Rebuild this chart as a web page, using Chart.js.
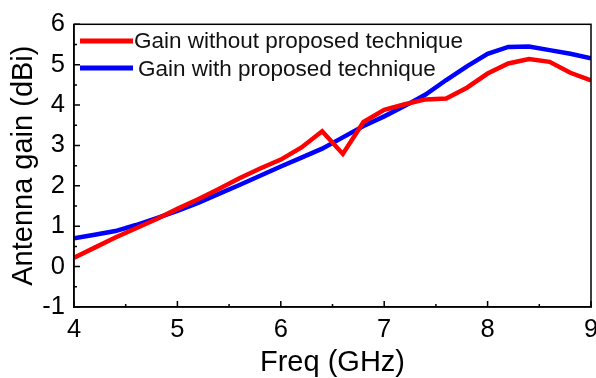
<!DOCTYPE html>
<html>
<head>
<meta charset="utf-8">
<script src="https://cdn.jsdelivr.net/npm/chart.js@4"></script>
<style>
    html, body { margin: 0; padding: 0; background: #ffffff; }
    #wrap { width: 596px; height: 378px; }
</style>
</head>
<body>
<div id="wrap"><canvas id="gainChart" width="596" height="378"></canvas></div>
<script>
// Frequency sweep (GHz) and measured gain (dBi)
const freqs = [4.0, 4.2, 4.4, 4.6, 4.8, 5.0, 5.2, 5.4, 5.6, 5.8, 6.0, 6.2, 6.4,
               6.6, 6.8, 7.0, 7.2, 7.4, 7.6, 7.8, 8.0, 8.2, 8.4, 8.6, 8.8, 9.0];
const gainWithout = [0.22, 0.47, 0.72, 0.95, 1.18, 1.43, 1.67, 1.92, 2.19, 2.43, 2.65, 2.95, 3.35,
                     2.79, 3.58, 3.88, 4.02, 4.14, 4.16, 4.43, 4.78, 5.03, 5.14, 5.07, 4.80, 4.61];
const gainWith = [0.70, 0.79, 0.88, 1.03, 1.20, 1.38, 1.58, 1.80, 2.02, 2.25, 2.48, 2.70, 2.92,
                  3.20, 3.48, 3.72, 3.98, 4.26, 4.62, 4.96, 5.27, 5.44, 5.45, 5.36, 5.27, 5.16];
const xTicks = [4, 5, 6, 7, 8, 9];
const yTicks = [-1, 0, 1, 2, 3, 4, 5, 6];
const seriesLabels = ['Gain without proposed technique', 'Gain with proposed technique'];

const FONT = '"Liberation Sans", Arial, Helvetica, sans-serif';

function toPoints(ys) {
    return freqs.map((f, i) => ({ x: f, y: ys[i] }));
}

// Frame on all four sides plus inward major/minor ticks on the left and bottom axes
const framePlugin = {
    id: 'frameTicks',
    afterDatasetsDraw(chart) {
        const { ctx, chartArea: a, scales } = chart;
        const xs = scales.x, ys = scales.y;
        ctx.save();
        ctx.strokeStyle = '#000';
        ctx.lineWidth = 1.5;
        ctx.strokeRect(a.left, a.top, a.right - a.left, a.bottom - a.top);
        ctx.beginPath();
        for (let v = xTicks[0]; v <= xTicks[xTicks.length - 1] + 1e-9; v += 0.5) {
            const px = xs.getPixelForValue(v);
            const len = Number.isInteger(v) ? 6 : 3;
            ctx.moveTo(px, a.bottom);
            ctx.lineTo(px, a.bottom - len);
        }
        for (let v = yTicks[0]; v <= yTicks[yTicks.length - 1] + 1e-9; v += 0.5) {
            const py = ys.getPixelForValue(v);
            const len = Number.isInteger(v) ? 6 : 3;
            ctx.moveTo(a.left, py);
            ctx.lineTo(a.left + len, py);
        }
        ctx.stroke();
        ctx.restore();
    }
};

// Legend drawn inside the plot, top-left
const insideLegend = {
    id: 'insideLegend',
    afterDraw(chart) {
        const { ctx } = chart;
        const rows = [
            { lineY: 41, textX: 134, baseY: 48 },
            { lineY: 68, textX: 138, baseY: 76 }
        ];
        ctx.save();
        ctx.font = '22.5px ' + FONT;
        ctx.textBaseline = 'alphabetic';
        ctx.textAlign = 'left';
        chart.data.datasets.forEach((ds, i) => {
            const r = rows[i];
            ctx.strokeStyle = ds.borderColor;
            ctx.lineWidth = 5;
            ctx.beginPath();
            ctx.moveTo(80, r.lineY);
            ctx.lineTo(133, r.lineY);
            ctx.stroke();
            ctx.fillStyle = '#111';
            ctx.fillText(ds.label, r.textX, r.baseY);
        });
        ctx.restore();
    }
};

const chart = new Chart(document.getElementById('gainChart'), {
    type: 'line',
    data: {
        datasets: [
            {
                label: seriesLabels[0],
                data: toPoints(gainWithout),
                borderColor: '#ff0000',
                borderWidth: 4.5,
                pointRadius: 0,
                tension: 0,
                fill: false
            },
            {
                label: seriesLabels[1],
                data: toPoints(gainWith),
                borderColor: '#0000ff',
                borderWidth: 4.5,
                pointRadius: 0,
                tension: 0,
                fill: false
            }
        ]
    },
    options: {
        responsive: false,
        animation: false,
        events: [],
        layout: { padding: { top: 21, right: 5, bottom: 0, left: 0 } },
        plugins: {
            legend: { display: false },
            tooltip: { enabled: false }
        },
        scales: {
            x: {
                type: 'linear',
                position: 'bottom',
                min: 4,
                max: 9,
                afterBuildTicks(scale) {
                    scale.ticks = xTicks.map(v => ({ value: v }));
                },
                ticks: {
                    color: '#000',
                    font: { family: FONT, size: 25.5 },
                    padding: 8,
                    maxRotation: 0
                },
                grid: { display: false, drawTicks: false },
                border: { display: true, color: '#000', width: 1.5 },
                title: {
                    display: true,
                    text: 'Freq (GHz)',
                    color: '#000',
                    font: { family: FONT, size: 29, lineHeight: 1 },
                    padding: { top: 0, bottom: 0.5 }
                },
                afterFit(scale) {
                    scale.height = 71;
                    scale.paddingLeft = 0;
                    scale.paddingRight = 0;
                }
            },
            y: {
                type: 'linear',
                min: -1,
                max: 6,
                afterBuildTicks(scale) {
                    scale.ticks = yTicks.map(v => ({ value: v }));
                },
                ticks: {
                    color: '#000',
                    font: { family: FONT, size: 25.5 },
                    padding: 9
                },
                grid: { display: false, drawTicks: false },
                border: { display: true, color: '#000', width: 1.5 },
                title: {
                    display: true,
                    text: 'Antenna gain (dBi)',
                    color: '#000',
                    font: { family: FONT, size: 29, lineHeight: 1 },
                    padding: { top: 9.5, bottom: 0 }
                },
                afterFit(scale) {
                    scale.width = 74;
                }
            }
        }
    },
    plugins: [framePlugin, insideLegend]
});
</script>
</body>
</html>
